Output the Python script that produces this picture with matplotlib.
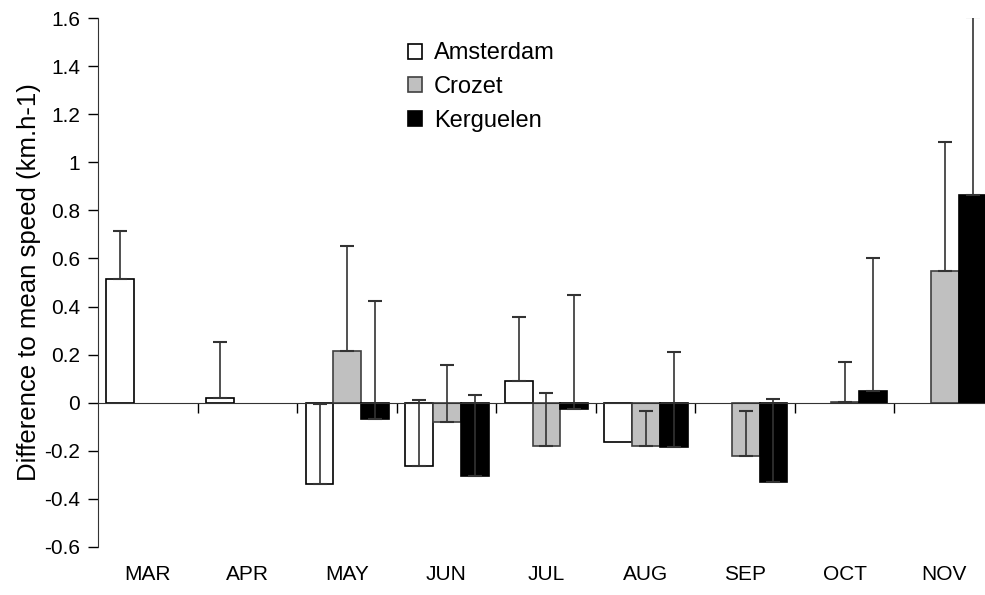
import matplotlib.pyplot as plt
import numpy as np
from matplotlib.ticker import FuncFormatter

months = ['MAR', 'APR', 'MAY', 'JUN', 'JUL', 'AUG', 'SEP', 'OCT', 'NOV']
nan = np.nan

amsterdam = [0.515, 0.02, -0.34, -0.265, 0.091, -0.162, nan, nan, nan]
amsterdam_err = [0.2, 0.233, 0.335, 0.276, 0.265, nan, nan, nan, nan]
crozet = [nan, nan, 0.217, -0.082, -0.179, -0.179, -0.223, 0.003, 0.546]
crozet_err = [nan, nan, 0.433, 0.237, 0.219, 0.143, 0.187, 0.165, 0.54]
kerguelen = [nan, nan, -0.066, -0.306, -0.025, -0.184, -0.33, 0.047, 0.864]
kerguelen_err = [nan, nan, 0.491, 0.339, 0.475, 0.393, 0.344, 0.553, 0.742]

plt.rcParams['font.family'] = ['Liberation Sans', 'DejaVu Sans']

fig = plt.figure(figsize=(9.85, 5.95), dpi=100)
ax = fig.add_axes([98 / 985, 1 - 547 / 595, 896 / 985, 529 / 595])

x = np.arange(len(months))
w = 0.28
series = [
    ('Amsterdam', amsterdam, amsterdam_err, 'white', 'black', -0.275),
    ('Crozet', crozet, crozet_err, '#c0c0c0', '#404040', 0.005),
    ('Kerguelen', kerguelen, kerguelen_err, 'black', 'black', 0.285),
]
for name, vals, errs, fc, ec, off in series:
    vals = np.array(vals)
    errs = np.array(errs)
    has = ~np.isnan(vals)
    ax.bar(x[has] + off, vals[has], w, color=fc, edgecolor=ec,
           linewidth=1.2, label=name, zorder=2)
    ok = ~np.isnan(errs)
    ax.errorbar(x[ok] + off, vals[ok], yerr=[np.zeros(ok.sum()), errs[ok]],
                fmt='none', ecolor='#333333', elinewidth=1.2, capsize=5,
                capthick=1.5, zorder=3)

ax.set_xlim(-0.5, 8.5)
ax.set_ylim(-0.6, 1.6)
ax.set_yticks(np.arange(-0.6, 1.61, 0.2))
ax.yaxis.set_major_formatter(FuncFormatter(lambda v, p: f'{round(v, 1):g}'))
ax.tick_params(axis='y', direction='out', length=7, width=1, labelsize=15, pad=6)
ax.set_ylabel('Difference to mean speed (km.h-1)', fontsize=18.5, labelpad=2)

# category axis sits at zero
ax.spines['bottom'].set_position(('data', 0))
ax.spines['top'].set_visible(False)
ax.spines['right'].set_visible(False)
ax.spines['left'].set_color('#333333')
ax.spines['bottom'].set_color('#333333')
ax.set_xticks(np.arange(0.5, 8.5, 1.0))
ax.tick_params(axis='x', direction='out', length=7, width=1, labelbottom=False)

sec = ax.secondary_xaxis('bottom')
sec.set_xticks(x)
sec.set_xticklabels(months)
sec.tick_params(length=0, labelsize=15, pad=13)
sec.spines['bottom'].set_visible(False)

ax.legend(loc='upper left', bbox_to_anchor=(0.346, 0.954), frameon=False,
          fontsize=17, handlelength=0.6, handleheight=0.6, handletextpad=0.5,
          labelspacing=0.5, borderpad=0, borderaxespad=0)

fig.savefig('out.png', dpi=100)
